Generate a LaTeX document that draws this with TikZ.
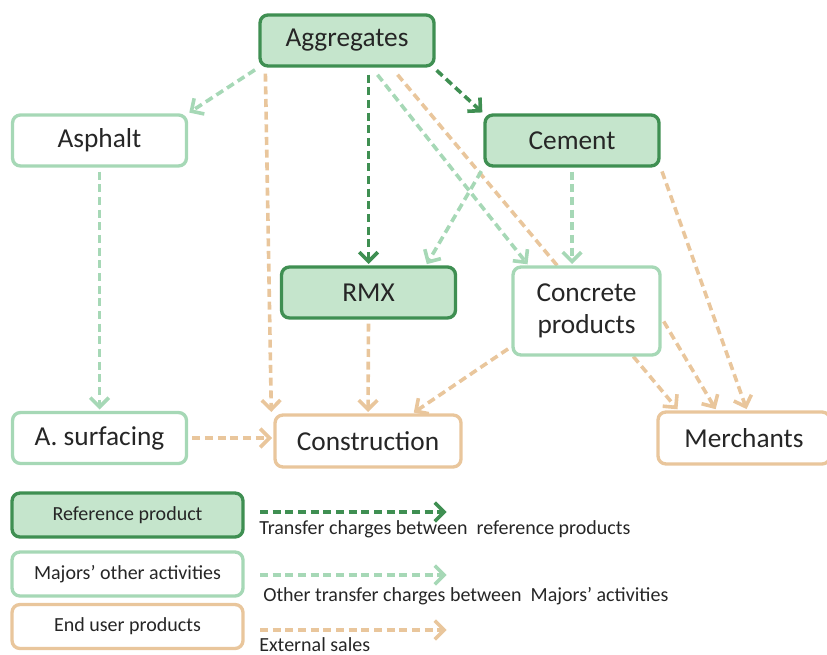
\documentclass[tikz,border=0pt]{standalone}
\usepackage{fontspec}
\setmainfont{Carlito}
\usetikzlibrary{arrows.meta}
\definecolor{refgreen}{HTML}{3F8F52}
\definecolor{reffill}{HTML}{C5E5CC}
\definecolor{othgreen}{HTML}{A6D8B6}
\definecolor{usertan}{HTML}{E9C69C}
\definecolor{inktext}{HTML}{262626}
\begin{document}
\begin{tikzpicture}[x=0.75pt,y=-0.75pt,
  box/.style={rounded corners=6pt, line width=2.5pt, inner sep=0pt, text=inktext,
    minimum width=130.5pt, minimum height=38.25pt, align=center,
    font=\fontsize{20.5}{24}\selectfont},
  refbox/.style={box, draw=refgreen, fill=reffill},
  othbox/.style={box, draw=othgreen, fill=white},
  userbox/.style={box, draw=usertan, fill=white},
  keybox/.style={minimum width=173.25pt, minimum height=33pt, font=\fontsize{15}{18}\selectfont},
  link/.style={line width=2.7pt, dash pattern=on 6pt off 3.5pt, shorten <=3pt, shorten >=1pt,
    -{Straight Barb[length=7pt,width=14pt]}},
  reflink/.style={link, refgreen},
  othlink/.style={link, othgreen},
  salelink/.style={link, usertan},
  keytext/.style={anchor=west, inner sep=0pt, text=inktext, font=\fontsize{15}{18}\selectfont}]
\useasboundingbox (0,0) rectangle (827,655);
\node[refbox] (agg) at (347,40.5){Aggregates};
\node[othbox] (asph) at (99.5,140.5){Asphalt};
\node[refbox] (cem) at (572,140.5){Cement};
\node[refbox] (rmx) at (368.5,292.5){RMX};
\node[othbox] (asurf) at (99.5,438){A. surfacing};
\node[userbox, minimum width=139.5pt, minimum height=39pt] (cons) at (368,441){Construction};
\node[userbox, minimum width=129pt, minimum height=39pt] (merch) at (744,438){Merchants};
% passes behind the concrete box
\draw[salelink] ([shift={(48,4)}]agg.south) -- ([shift={(22,0)}]merch.north west);
\node[othbox, minimum width=110.25pt, minimum height=66pt] (conc) at (586.5,311){Concrete\\products};
\draw[othlink] (agg.south west) -- (asph.north east);
\draw[salelink] ([shift={(7,2)}]agg.south west) -- ([shift={(-2,0)}]cons.north west);
\draw[reflink] (rmx.north |- agg.south) ++(0,3) -- (rmx.north);
\draw[othlink] ([shift={(28,4)}]agg.south) -- ([shift={(17,0)}]conc.north west);
\draw[reflink] ([shift={(-2,0)}]agg.south east) -- (cem.north west);
\draw[othlink] (cem.south west) -- ([shift={(-31,0)}]rmx.north east);
\draw[othlink] (cem.south) -- (cem.south |- conc.north);
\draw[salelink] (cem.south east) -- ([shift={(3,0)}]merch.north);
\draw[othlink] (asph.south) -- (asurf.north);
\draw[salelink] (asurf.east) -- (asurf.east -| cons.west);
\draw[salelink] (rmx.south) -- (cons.north);
\draw[salelink] ([shift={(0,-10)}]conc.south west) -- ([shift={(-50,0)}]cons.north east);
\draw[salelink] ([shift={(0,7)}]conc.east) -- ([shift={(60,0)}]merch.north west);
% key
\node[refbox, keybox] (kref) at (127.5,515){Reference product};
\node[othbox, keybox] (koth) at (127.5,574){Majors’ other activities};
\node[userbox, keybox] (kuser) at (127.5,626.5){End user products};
\coordinate (kref1) at (260,512);
\coordinate (kref2) at (448,512);
\coordinate (koth1) at (260,575);
\coordinate (koth2) at (448,575);
\coordinate (kuser1) at (260,630);
\coordinate (kuser2) at (448,630);
\draw[reflink, shorten <=0pt] (kref1) -- (kref2);
\draw[othlink, shorten <=0pt] (koth1) -- (koth2);
\draw[salelink, shorten <=0pt] (kuser1) -- (kuser2);
\node[keytext] (tref) at (259,529){Transfer charges between~ reference products};
\node[keytext] (toth) at (263,596){Other transfer charges between~ Majors’ activities};
\node[keytext] (tuser) at (259,645){External sales};
\end{tikzpicture}
\end{document}
